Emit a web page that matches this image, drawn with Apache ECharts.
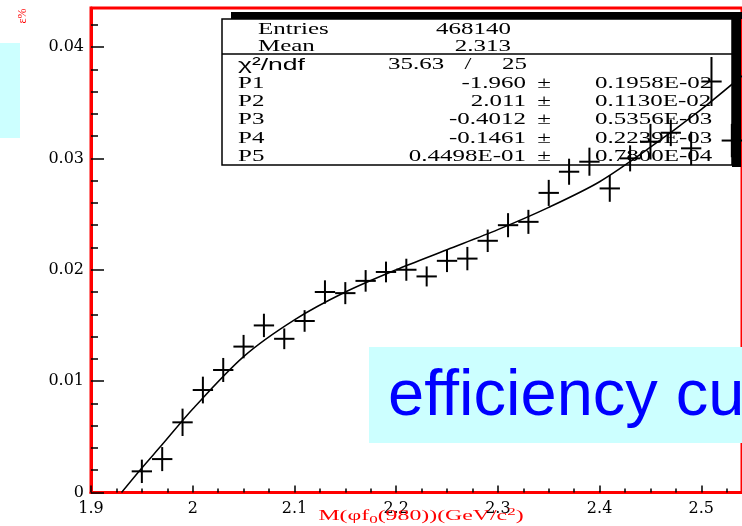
<!DOCTYPE html>
<html>
<head>
<meta charset="utf-8">
<script src="https://cdn.jsdelivr.net/npm/echarts@6/dist/echarts.min.js"></script>
<style>
  html, body { margin: 0; padding: 0; background: #fff; }
  #main { width: 742px; height: 526px; }
</style>
</head>
<body>
<div id="main"></div>
<script>
// 效率数据 (bin 中心, 效率, 误差)
const binCenters = [1.95, 1.97, 1.99, 2.01, 2.03, 2.05, 2.07, 2.09, 2.11, 2.13,
                    2.15, 2.17, 2.19, 2.21, 2.23, 2.25, 2.27, 2.29, 2.31, 2.33,
                    2.35, 2.37, 2.39, 2.41, 2.43, 2.45, 2.47, 2.49, 2.51, 2.53];
const effValues = [0.0019, 0.0030, 0.0063, 0.0092, 0.0110, 0.0131, 0.0150, 0.0138, 0.0154, 0.0180,
                   0.0179, 0.0190, 0.0198, 0.0200, 0.0194, 0.0208, 0.0210, 0.0226, 0.0240, 0.0243,
                   0.0269, 0.0288, 0.0297, 0.0273, 0.0300, 0.0315, 0.0323, 0.0309, 0.0369, 0.0316];
const effErrors = [0.00105, 0.00108, 0.00123, 0.00120, 0.00108, 0.00105, 0.00105, 0.00093, 0.00097, 0.00105,
                   0.00099, 0.00097, 0.00093, 0.00099, 0.00090, 0.00101, 0.00105, 0.00101, 0.00108, 0.00108,
                   0.00117, 0.00117, 0.00126, 0.00120, 0.00117, 0.00160, 0.00120, 0.00150, 0.00220, 0.00150];
const binHalfWidth = 0.01;

// 拟合曲线
const fitX = [1.93, 1.95, 1.97, 2.0, 2.05, 2.1, 2.15, 2.2, 2.25, 2.3, 2.35, 2.4, 2.45, 2.5, 2.54];
const fitY = [0, 0.0022, 0.0043, 0.0075, 0.0122, 0.0155, 0.0180, 0.0200, 0.0218, 0.0236, 0.0256, 0.0279, 0.0310, 0.0344, 0.0374];

// 刻度
const xMajorTicks = [1.9, 2.0, 2.1, 2.2, 2.3, 2.4, 2.5];
const xMinorTicks = [1.925, 1.95, 1.975, 2.025, 2.05, 2.075, 2.125, 2.15, 2.175, 2.225, 2.25, 2.275,
                     2.325, 2.35, 2.375, 2.425, 2.45, 2.475, 2.525];
const xTickLabels = ['1.9', '2', '2.1', '2.2', '2.3', '2.4', '2.5'];
const yMajorTicks = [0, 0.01, 0.02, 0.03, 0.04];
const yMinorTicks = [0.002, 0.004, 0.006, 0.008, 0.012, 0.014, 0.016, 0.018, 0.022, 0.024, 0.026, 0.028,
                     0.032, 0.034, 0.036, 0.038, 0.042];
const yTickLabels = ['0', '0.01', '0.02', '0.03', '0.04'];

// 统计框
const statHead = [['Entries', '468140'], ['Mean', '2.313']];
const chiText = ['35.63', '/', '25'];
const statParams = [
  ['P1', '-1.960', '0.1958E-02'],
  ['P2', '2.011', '0.1130E-02'],
  ['P3', '-0.4012', '0.5356E-03'],
  ['P4', '-0.1461', '0.2239E-03'],
  ['P5', '0.4498E-01', '0.7800E-04']
];

const chart = echarts.init(document.getElementById('main'));

const serif = '"Liberation Serif", "Times New Roman", serif';
const sans = '"Liberation Sans", Arial, sans-serif';
const sx = 1.56; // 原图文字横向拉伸
function txt(x, y, text, align, size, family) {
  return {
    type: 'text', x: x, y: y, scaleX: sx, z: 1, silent: true,
    style: { text: text, fontSize: size || 16, fontFamily: family || serif, fill: '#000', align: align, verticalAlign: 'middle' }
  };
}

const graphics = [
  // 左侧青色块
  { type: 'rect', z: 1, shape: { x: 0, y: 43, width: 20, height: 95 }, style: { fill: '#ccffff' } },
  // y 轴名
  { type: 'text', x: 23, y: 16, rotation: Math.PI / 2, z: 1,
    style: { text: 'ε%', fontSize: 12, fontFamily: serif, fill: '#ff0000', align: 'center', verticalAlign: 'middle' } },
  // 统计框阴影
  { type: 'rect', z: 1, shape: { x: 231, y: 12, width: 511, height: 7 }, style: { fill: '#000' } },
  { type: 'rect', z: 1, shape: { x: 732, y: 12, width: 9, height: 155 }, style: { fill: '#000' } },
  // 统计框
  { type: 'rect', z: 1, shape: { x: 222, y: 19, width: 510, height: 146 }, style: { fill: '#fff', stroke: '#000', lineWidth: 1.5 } },
  { type: 'line', z: 1, shape: { x1: 222, y1: 54, x2: 732, y2: 54 }, style: { stroke: '#000', lineWidth: 1.5 } },
  // efficiency 文字框
  { type: 'rect', z: 1, shape: { x: 369, y: 347, width: 380, height: 96 }, style: { fill: '#ccffff' } },
  { type: 'text', x: 388, y: 397, z: 1,
    style: { text: 'efficiency curve', fontSize: 65, fontFamily: sans, fill: '#0000ff', align: 'left', verticalAlign: 'middle' } },
  // x 轴名
  { type: 'text', x: 421, y: 516, scaleX: 1.7, z: 1,
    style: {
      text: '{n|M(φf}{s|0}{n|(980))(GeV/c}{p|2}{n|)}', align: 'center', verticalAlign: 'middle',
      rich: {
        n: { fontSize: 14, fontFamily: serif, fill: '#ff0000', lineHeight: 18 },
        s: { fontSize: 10, fontFamily: serif, fill: '#ff0000', lineHeight: 9, verticalAlign: 'bottom' },
        p: { fontSize: 10, fontFamily: serif, fill: '#ff0000', lineHeight: 9, verticalAlign: 'top' }
      }
    } }
];

const headY = [30, 46.5];
statHead.forEach((r, i) => {
  graphics.push(txt(258, headY[i], r[0], 'left'));
  graphics.push(txt(511, headY[i], r[1], 'right'));
});
graphics.push(txt(238, 65, 'χ²/ndf', 'left', 17, sans));
graphics.push(txt(388, 65, chiText[0], 'left'));
graphics.push(txt(468, 65, chiText[1], 'center'));
graphics.push(txt(527, 65, chiText[2], 'right'));
statParams.forEach((r, i) => {
  const y = 83.5 + i * 18.3;
  graphics.push(txt(238, y, r[0], 'left'));
  graphics.push(txt(526, y, r[1], 'right'));
  graphics.push(txt(544, y, '±', 'center'));
  graphics.push(txt(595, y, r[2], 'left'));
});

const tickFont = { fontFamily: '"DejaVu Serif", serif', fontSize: 16, color: '#000' };

const option = {
  animation: false,
  backgroundColor: '#fff',
  grid: { left: 91, top: 8, width: 660, height: 484.5, show: true, borderColor: '#ff0000', borderWidth: 3 },
  xAxis: [
    {
      type: 'value', position: 'bottom', min: 1.9, max: 2.54,
      axisLine: { lineStyle: { color: '#ff0000', width: 3 } },
      axisTick: { inside: true, length: 7, customValues: xMajorTicks, lineStyle: { color: '#000', width: 1.5 } },
      axisLabel: Object.assign({
        margin: 8, customValues: xMajorTicks,
        formatter: v => xTickLabels[xMajorTicks.findIndex(t => Math.abs(t - v) < 1e-6)] || ''
      }, tickFont),
      splitLine: { show: false }
    },
    {
      type: 'value', position: 'bottom', min: 1.9, max: 2.54,
      axisLine: { show: false },
      axisTick: { inside: true, length: 4, customValues: xMinorTicks, lineStyle: { color: '#000', width: 1.5 } },
      axisLabel: { show: false },
      splitLine: { show: false }
    }
  ],
  yAxis: [
    {
      type: 'value', position: 'left', min: 0, max: 0.0435,
      axisLine: { show: true, lineStyle: { color: '#ff0000', width: 3 } },
      axisTick: { show: true, inside: true, length: 13, customValues: yMajorTicks, lineStyle: { color: '#000', width: 1.5 } },
      axisLabel: Object.assign({
        margin: 7, customValues: yMajorTicks,
        formatter: v => yTickLabels[yMajorTicks.findIndex(t => Math.abs(t - v) < 1e-9)] || ''
      }, tickFont),
      splitLine: { show: false }
    },
    {
      type: 'value', position: 'left', min: 0, max: 0.0435,
      axisLine: { show: false },
      axisTick: { show: true, inside: true, length: 7, customValues: yMinorTicks, lineStyle: { color: '#000', width: 1.5 } },
      axisLabel: { show: false },
      splitLine: { show: false }
    }
  ],
  graphic: graphics,
  series: [
    {
      name: 'fit',
      type: 'line',
      xAxisIndex: 0, yAxisIndex: 0, z: 3,
      smooth: 0.3,
      showSymbol: false,
      lineStyle: { color: '#000', width: 1.5 },
      data: fitX.map((x, i) => [x, fitY[i]])
    },
    {
      name: 'efficiency',
      type: 'custom',
      xAxisIndex: 0, yAxisIndex: 0, z: 4,
      data: binCenters.map((x, i) => [x, effValues[i], effErrors[i]]),
      renderItem: function (params, api) {
        const x = api.value(0), y = api.value(1), e = api.value(2);
        const l = api.coord([x - binHalfWidth, y]);
        const r = api.coord([x + binHalfWidth, y]);
        const t = api.coord([x, y + e]);
        const b = api.coord([x, y - e]);
        const st = { stroke: '#000', lineWidth: 2 };
        return {
          type: 'group',
          children: [
            { type: 'line', shape: { x1: l[0], y1: l[1], x2: r[0], y2: r[1] }, style: st },
            { type: 'line', shape: { x1: t[0], y1: t[1], x2: b[0], y2: b[1] }, style: st }
          ]
        };
      }
    }
  ]
};

chart.setOption(option);
</script>
</body>
</html>
